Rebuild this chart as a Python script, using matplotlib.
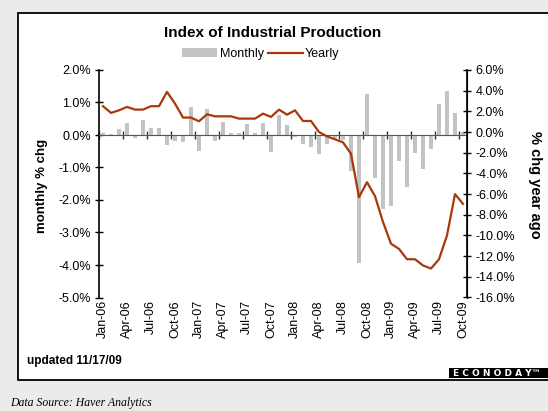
import matplotlib
matplotlib.use('Agg')
import matplotlib.pyplot as plt
import matplotlib.transforms as transforms
from matplotlib.patches import Rectangle, Patch
from matplotlib.lines import Line2D
import numpy as np

plt.rcParams['font.family'] = ['Liberation Sans', 'DejaVu Sans']

# monthly % change (left axis), Jan-06 .. Oct-09
monthly = [0.05, 0.02, 0.19, 0.38, -0.08, 0.45, 0.23, 0.23, -0.30, -0.17, -0.22, 0.86,
           -0.49, 0.81, -0.19, 0.41, 0.07, 0.07, 0.34, 0.07, 0.38, -0.53, 0.60, 0.30,
           -0.06, -0.29, -0.36, -0.58, -0.27, -0.10, -0.15, -1.10, -3.94, 1.27, -1.32, -2.27,
           -2.20, -0.80, -1.60, -0.55, -1.06, -0.43, 0.94, 1.34, 0.67, 0.09]

# % change year ago (right axis)
yearly = [2.50, 1.85, 2.10, 2.43, 2.17, 2.17, 2.50, 2.50, 3.88, 2.75, 1.40, 1.40,
          1.04, 1.72, 1.52, 1.52, 1.52, 1.30, 1.30, 1.30, 1.78, 1.46, 2.17, 1.68,
          2.10, 1.07, 1.07, 0.00, -0.42, -0.70, -1.00, -2.10, -6.30, -4.85, -6.20, -8.70,
          -10.80, -11.30, -12.30, -12.30, -12.90, -13.20, -12.30, -10.00, -6.00, -6.95]

tick_labels = ['Jan-06', 'Apr-06', 'Jul-06', 'Oct-06', 'Jan-07', 'Apr-07', 'Jul-07', 'Oct-07',
               'Jan-08', 'Apr-08', 'Jul-08', 'Oct-08', 'Jan-09', 'Apr-09', 'Jul-09', 'Oct-09']

x = np.arange(len(monthly))
W, H = 548, 411

fig = plt.figure(figsize=(W / 100, H / 100), dpi=100)
fig.patch.set_facecolor('#ebebeb')

# white panel with black frame
fig.patches.append(Rectangle((18 / W, 1 - 380 / H), 540 / W, 367 / H, transform=fig.transFigure,
                             facecolor='white', edgecolor='black', linewidth=1.3, zorder=-5))
# econoday logo box
fig.patches.append(Rectangle((449 / W, 1 - 378 / H), 110 / W, 10 / H, transform=fig.transFigure,
                             facecolor='black', edgecolor='none', zorder=-4))

ax = fig.add_axes([99 / W, 1 - 297.5 / H, 368 / W, 227.5 / H])
ax.patch.set_alpha(0)
ax.bar(x, monthly, width=0.42, color='#c3c3c3', zorder=2)
ax.set_xlim(-0.5, len(monthly) - 0.5)
ax.set_ylim(-5, 2)
ax.set_yticks(np.arange(-5, 2.1, 1))
ax.set_yticklabels(['{:.1f}%'.format(v) for v in np.arange(-5, 2.1, 1)], fontsize=9)
ax.tick_params(axis='y', direction='inout', length=6, width=1, pad=3)

# category axis sits on the zero line
ax.spines['top'].set_visible(False)
ax.spines['bottom'].set_position(('data', 0))
ax.spines['bottom'].set_color('#555555')
ax.spines['left'].set_linewidth(1.2)
ax.set_xticks(np.arange(-0.5, len(monthly) - 0.5, 3))
ax.tick_params(axis='x', direction='inout', length=6, width=1, color='#333333', labelbottom=False)

trans = transforms.blended_transform_factory(ax.transData, ax.transAxes)
for i, lab in enumerate(tick_labels):
    ax.text(x[i * 3], -0.012, lab, transform=trans, rotation=90, ha='center', va='top', fontsize=9)

ax2 = ax.twinx()
ax2.plot(x, yearly, color='#a8380a', linewidth=1.6, zorder=3)
ax2.set_ylim(-16, 6)
yt = np.arange(-16, 6.1, 2)
ax2.set_yticks(yt)
ax2.set_yticklabels(['{:.1f}%'.format(v) for v in yt], fontsize=9)
ax2.tick_params(axis='y', direction='inout', length=6, width=1, pad=3)
for s in ['top', 'bottom', 'left']:
    ax2.spines[s].set_visible(False)
ax2.spines['right'].set_linewidth(1.2)

fig.text(273 / W, 1 - 33 / H, 'Index of Industrial Production', ha='center', va='center',
         fontsize=11, fontweight='bold')
handles = [Patch(facecolor='#c3c3c3', edgecolor='none', label='Monthly'),
           Line2D([0], [0], color='#a8380a', linewidth=1.6, label='Yearly')]
fig.legend(handles=handles, loc='center', bbox_to_anchor=(261 / W, 1 - 54 / H), ncol=2,
           frameon=False, fontsize=9, handlelength=2.8, handleheight=0.7, handletextpad=0.2,
           columnspacing=0.3)

fig.text(42 / W, 1 - 186 / H, 'monthly % chg', rotation=90, ha='center', va='center',
         fontsize=9.5, fontweight='bold')
fig.text(535 / W, 1 - 185 / H, '% chg year ago', rotation=-90, ha='center', va='center',
         fontsize=10.5, fontweight='bold')

fig.text(27 / W, 1 - 361 / H, 'updated 11/17/09', ha='left', va='center', fontsize=8.5,
         fontweight='bold')
fig.text(453 / W, 1 - 373 / H, 'E C O N O D A Y\u2122', ha='left', va='center', fontsize=6.5,
         fontweight='bold', color='white', family=['DejaVu Sans'])
fig.text(10 / W, 1 - 403 / H, 'Data Source: Haver Analytics', ha='left', va='center',
         fontsize=8.5, fontstyle='italic', family=['Liberation Serif', 'DejaVu Serif'])

fig.savefig('out.png', dpi=100, facecolor=fig.get_facecolor())
